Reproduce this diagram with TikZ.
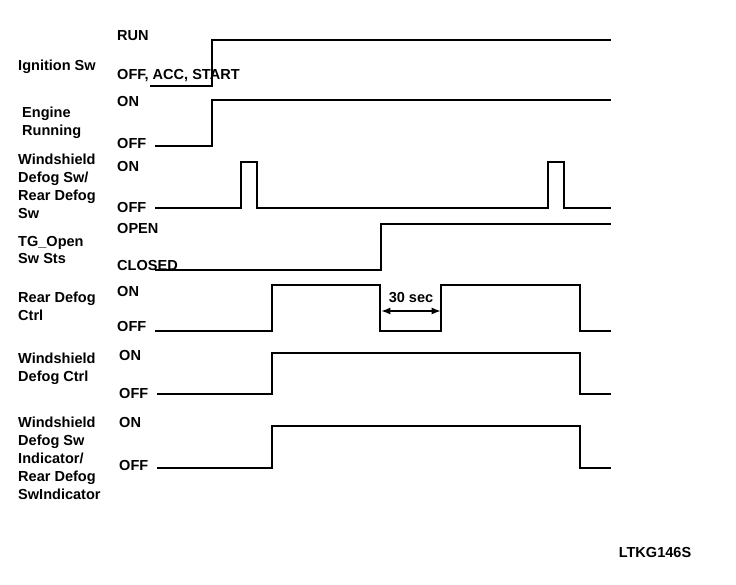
\documentclass[tikz,border=0pt]{standalone}
\usepackage{fontspec}
\setmainfont{Liberation Sans}
\usepackage{tikz}
\usetikzlibrary{arrows.meta}

\begin{document}
\begin{tikzpicture}[
  x=0.03cm, y=-0.03cm,
  sig/.style={
    anchor=west, align=left, inner sep=0pt,
    font=\fontsize{12.4}{15.3}\selectfont\bfseries
  },
  lvl/.style={
    anchor=west, inner sep=0pt,
    font=\fontsize{12.4}{14}\selectfont\bfseries
  },
  wave/.style={line width=1.5pt, line join=miter, black},
  dim/.style={{Latex[length=8pt,width=6pt]}-{Latex[length=8pt,width=6pt]}, line width=1.4pt}
]
\useasboundingbox (0,0) rectangle (736,584);

\node[sig] (ign) at (18,67) {Ignition Sw};
\node[sig] (eng) at (22,123) {Engine\\Running};
\node[sig] (wsw) at (18,186) {Windshield\\Defog Sw/\\Rear Defog\\Sw};
\node[sig] (tg)  at (18,250) {TG\_Open\\Sw Sts};
\node[sig] (rdc) at (18,306) {Rear Defog\\Ctrl};
\node[sig] (wdc) at (18,369) {Windshield\\Defog Ctrl};
\node[sig] (ind) at (18,458) {Windshield\\Defog Sw\\Indicator/\\Rear Defog\\SwIndicator};

\node[lvl] (ignH) at (117,36) {RUN};
\node[lvl] (ignL) at (117,76) {OFF, ACC, START};
\node[lvl] (engH) at (117,101) {ON};
\node[lvl] (engL) at (117,143) {OFF};
\node[lvl] (wswH) at (117,166) {ON};
\node[lvl] (wswL) at (117,207) {OFF};
\node[lvl] (tgH)  at (117,228) {OPEN};
\node[lvl] (tgL)  at (117,265) {CLOSED};
\node[lvl] (rdcH) at (117,291) {ON};
\node[lvl] (rdcL) at (117,326) {OFF};
\node[lvl] (wdcH) at (119,355) {ON};
\node[lvl] (wdcL) at (119,393) {OFF};
\node[lvl] (indH) at (119,422) {ON};
\node[lvl] (indL) at (119,465) {OFF};

\draw[wave] (150,86) -- (212,86) -- (212,40) -- (611,40);
\draw[wave] (155,146) -- (212,146) -- (212,100) -- (611,100);
\draw[wave] (155,208) -- (241,208) -- (241,162) -- (257,162) -- (257,208)
  -- (548,208) -- (548,162) -- (564,162) -- (564,208) -- (611,208);
\draw[wave] (155,270) -- (381,270) -- (381,224) -- (611,224);
\draw[wave] (155,331) -- (272,331) -- (272,285) -- (380,285) -- (380,331)
  -- (441,331) -- (441,285) -- (580,285) -- (580,331) -- (611,331);
\draw[wave] (157,394) -- (272,394) -- (272,353) -- (580,353) -- (580,394) -- (611,394);
\draw[wave] (157,468) -- (272,468) -- (272,426) -- (580,426) -- (580,468) -- (611,468);

\coordinate (t0) at (381,311);
\coordinate (t1) at (441,311);
\draw[dim] (t0) -- (t1);
\node[lvl, anchor=center] (gap) at (411,298) {30 sec};

\node[lvl, anchor=center] (code) at (655,552) {LTKG146S};
\end{tikzpicture}
\end{document}
